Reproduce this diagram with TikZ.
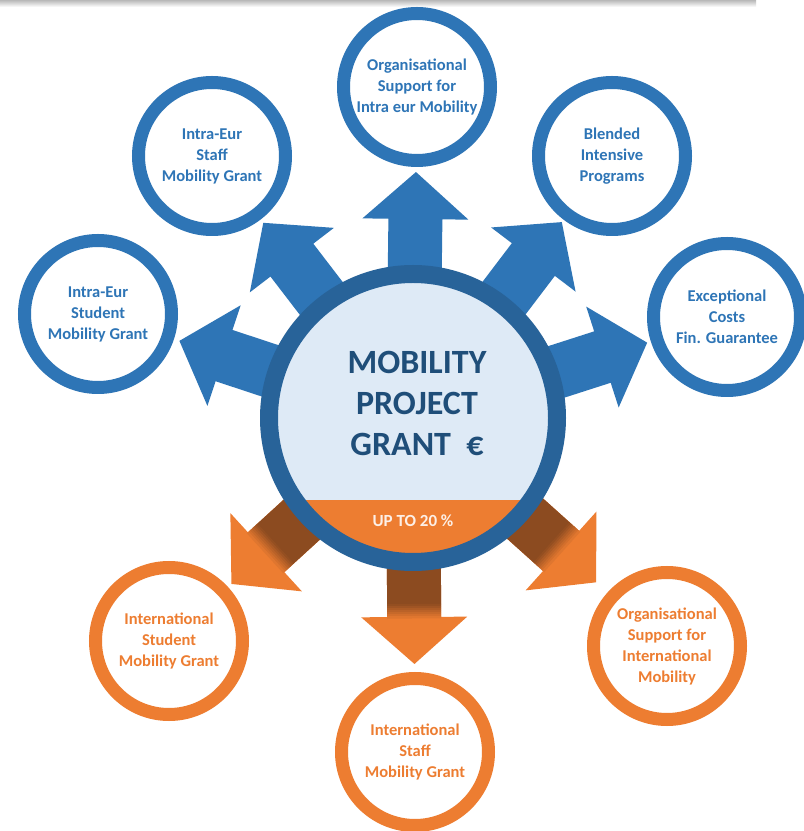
\documentclass[tikz,border=0pt]{standalone}
\usepackage{fontspec}
\setmainfont{Carlito}
\usetikzlibrary{calc}
\definecolor{grantblue}{RGB}{46,117,182}
\definecolor{ringblue}{RGB}{40,99,153}
\definecolor{hubfill}{RGB}{222,234,246}
\definecolor{hubink}{RGB}{31,78,121}
\definecolor{grantorange}{RGB}{237,125,49}
\definecolor{grantshadow}{RGB}{140,75,32}
\pgfdeclarelayer{canvas}
\pgfdeclarelayer{spokes}
\pgfsetlayers{canvas,spokes,main}

\begin{document}
\begin{tikzpicture}[
  x=1pt, y=1pt,
  bubble/.style={circle, draw=#1, line width=13pt, minimum size=147pt,
                 inner sep=0pt, align=center, text=#1,
                 font=\bfseries\fontsize{16.5}{21}\selectfont},
  hub/.style={circle, fill=hubfill, minimum size=272pt, inner sep=0pt},
  hubrim/.style={draw=ringblue, line width=18pt},
  hubtitle/.style={align=center, text=hubink, inner sep=0pt,
                   font=\bfseries\fontsize{34}{41}\selectfont},
  sharetext/.style={text=white!88!grantorange, inner sep=0pt,
                    font=\bfseries\fontsize{17}{20}\selectfont},
]
\begin{pgfonlayer}{canvas}
  \fill[white] (0,0) rectangle (804,831);
  \shade[top color=black!28, bottom color=white] (0,824) rectangle (756,831);
\end{pgfonlayer}
\useasboundingbox (0,0) rectangle (804,831);

% hub
\node[hub] (grant) at (413,413) {};
\begin{scope}
  \clip (grant.center) circle (136);
  \fill[grantorange] (250,200) rectangle (580,331);
\end{scope}
\draw[hubrim] (grant.center) circle (144);
\node[hubtitle] (title) at ([xshift=4,yshift=15]grant.center) {MOBILITY\\PROJECT\\GRANT\ \ €};
\node[sharetext] (share) at ([yshift=-103]grant.center) {UP TO 20 \%};

% bubbles
\node[bubble=grantblue] (euTop) at (417,744) {Organisational\\Support for\\Intra eur Mobility};
\node[bubble=grantblue] (euStaff) at (212,675) {Intra-Eur\\Staff\\Mobility Grant};
\node[bubble=grantblue] (euStudent) at (98,517) {Intra-Eur\\Student\\Mobility Grant};
\node[bubble=grantblue] (blended) at (612,675) {Blended\\Intensive\\Programs};
\node[bubble=grantblue] (costs) at (727,514) {Exceptional\\Costs\\Fin. Guarantee};
\node[bubble=grantorange] (intStudent) at (169,190) {International\\Student\\Mobility Grant};
\node[bubble=grantorange] (intStaff) at (415,79) {International\\Staff\\Mobility Grant};
\node[bubble=grantorange] (intSupport) at (667,185) {Organisational\\Support for\\International\\Mobility};

% spokes behind the hub
\begin{pgfonlayer}{spokes}
\foreach \b in {euTop,euStaff,euStudent,blended,costs} {
  \path let \p1 = ($(\b)-(grant)$), \n1 = {atan2(\y1,\x1)} in \pgfextra{\xdef\dir{\n1}};
  \begin{scope}[shift={(grant.center)}, rotate=\dir]
    \fill[grantblue] (105,-27) -- (199,-27) -- (199,-53) -- (246,0)
      -- (199,53) -- (199,27) -- (105,27) -- cycle;
  \end{scope}
}
\foreach \b in {intStudent,intStaff,intSupport} {
  \path let \p1 = ($(\b)-(grant)$), \n1 = {atan2(\y1,\x1)} in \pgfextra{\xdef\dir{\n1}};
  \begin{scope}[shift={(grant.center)}, rotate=\dir]
    \fill[grantorange] (105,-27) -- (199,-27) -- (199,-53) -- (246,0)
      -- (199,53) -- (199,27) -- (105,27) -- cycle;
    \fill[grantshadow] (105,-27) rectangle (186.5,27);
    \foreach \k in {0,...,6} {
      \pgfmathsetmacro\pct{92-13*\k}
      \fill[grantshadow!\pct!grantorange] ({186+2*\k},-27) rectangle ({188.5+2*\k},27);
    }
  \end{scope}
}
\end{pgfonlayer}
\end{tikzpicture}
\end{document}
